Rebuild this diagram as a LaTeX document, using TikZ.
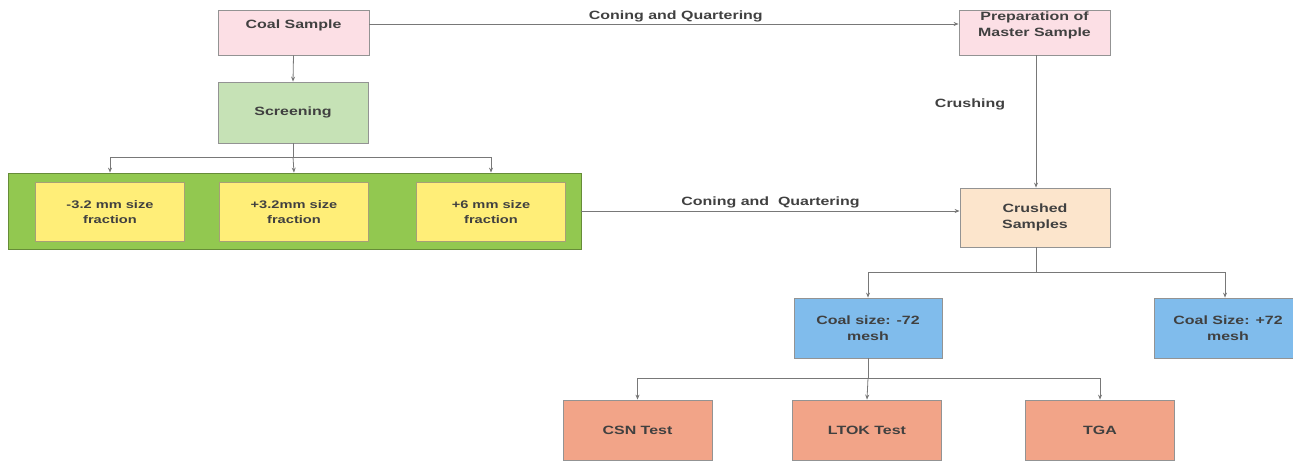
\documentclass[tikz,border=0pt]{standalone}
\usepackage{fontspec}
\setmainfont{Liberation Sans}[FakeStretch=1.33]
\usetikzlibrary{arrows.meta}
\definecolor{pinkf}{RGB}{252,223,229}
\definecolor{greenf}{RGB}{198,226,182}
\definecolor{contf}{RGB}{146,200,80}
\definecolor{yellf}{RGB}{255,238,120}
\definecolor{peachf}{RGB}{252,229,204}
\definecolor{bluef}{RGB}{128,188,236}
\definecolor{salmf}{RGB}{242,164,136}
\definecolor{txtc}{RGB}{64,64,64}
\definecolor{linec}{RGB}{120,120,120}
\tikzset{
  box/.style={draw=linec!80, line width=0.8pt, inner sep=2pt, align=center,
    font=\fontsize{12}{16}\selectfont\bfseries, text=txtc},
  txt/.style={inner sep=1pt, align=center, font=\fontsize{12}{16}\selectfont\bfseries, text=txtc},
  ybox/.style={box, fill=yellf, draw=yellf!50!black!70, minimum width=149pt, minimum height=59pt,
    font=\fontsize{11}{15}\selectfont\bfseries},
  conn/.style={draw=linec, line width=0.8pt},
  arr/.style={conn, -{Stealth[length=5pt,width=4pt]}},
}
\begin{document}
\begin{tikzpicture}[x=1pt,y=-1pt]
\useasboundingbox (0,0) rectangle (1293,463);
% top row
\node[box, fill=pinkf, minimum width=151pt, minimum height=45pt] (coal) at (293.5,32.5) {};
\node[txt] (coalt) at (293.5,25) {Coal Sample};
\node[box, fill=pinkf, minimum width=151pt, minimum height=45pt] (prep) at (1034.5,32.5) {};
\node[txt] (prept) at (1034.5,25) {Preparation of\\Master Sample};
\node[box, fill=greenf, minimum width=150pt, minimum height=61pt] (scr) at (293,112.5) {Screening};
% container
\node[box, fill=contf, draw=contf!70!black, minimum width=573pt, minimum height=76pt] (cont) at (294.5,211) {};
\node[ybox] (y1) at (110,212) {-3.2 mm size\\fraction};
\node[ybox] (y2) at (294,212) {+3.2mm size\\fraction};
\node[ybox] (y3) at (491,212) {+6 mm size\\fraction};
% right column
\node[box, fill=peachf, minimum width=150pt, minimum height=59pt] (crush) at (1035,217.5) {Crushed\\Samples};
\node[box, fill=bluef, minimum width=148pt, minimum height=60pt] (b1) at (868,328) {Coal size: -72\\mesh};
\node[box, fill=bluef, minimum width=148pt, minimum height=60pt] (b2) at (1228,328) {Coal Size: +72\\mesh};
\node[box, fill=salmf, minimum width=149pt, minimum height=60pt] (s1) at (637.5,430) {CSN Test};
\node[box, fill=salmf, minimum width=149pt, minimum height=60pt] (s2) at (867,430) {LTOK Test};
\node[box, fill=salmf, minimum width=149pt, minimum height=60pt] (s3) at (1100,430) {TGA};
% connectors
\draw[arr] ([yshift=8.5pt]coal.east) -- node[txt, above=1pt, pos=0.52] (lab1) {Coning and Quartering} ([yshift=8.5pt]prep.west);
\draw[arr] (coal.south) -- (scr.north);
\coordinate (j1) at (293,157);
\draw[conn] (scr.south) -- (j1);
\draw[arr] (j1) -| (y1.north |- cont.north);
\draw[arr] (j1) -- (y2.north |- cont.north);
\draw[arr] (j1) -| (y3.north |- cont.north);
\draw[arr] (cont.east) -- node[txt, above=2pt] (lab2) {Coning and\ \ Quartering} (crush.west |- cont.east);
\draw[arr] ([xshift=1.5pt]prep.south) -- ([xshift=1pt]crush.north);
\node[txt] (lab3) at (970,104) {Crushing};
\coordinate (j2) at (1036,272);
\draw[conn] ([xshift=1pt]crush.south) -- (j2);
\draw[arr] (j2) -| (b1.north);
\draw[arr] (j2) -| ([xshift=-3pt]b2.north);
\coordinate (j3) at (868,378);
\draw[conn] (b1.south) -- (j3);
\draw[arr] (j3) -| (s1.north);
\draw[arr] (j3) -- (s2.north);
\draw[arr] (j3) -| (s3.north);
\end{tikzpicture}
\end{document}
